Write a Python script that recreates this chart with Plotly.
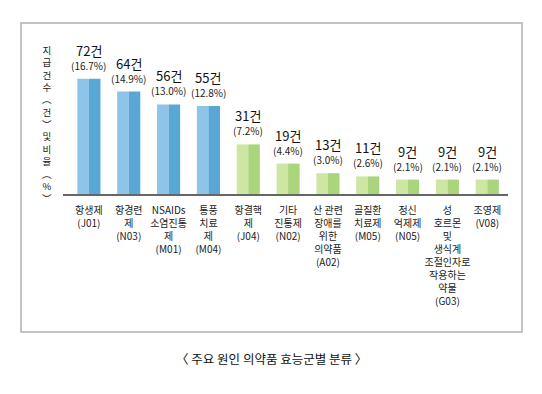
import plotly.graph_objects as go

categories = ["항생제<br>(J01)", "항경련<br>제<br>(N03)", "NSAIDs<br>소염진통<br>제<br>(M01)",
              "통풍<br>치료<br>제<br>(M04)", "항결핵<br>제<br>(J04)", "기타<br>진통제<br>(N02)",
              "산 관련<br>장애를<br>위한<br>의약품<br>(A02)", "골질환<br>치료제<br>(M05)",
              "정신<br>억제제<br>(N05)",
              "성<br>호르몬<br>및<br>생식계<br>조절인자로<br>작용하는<br>약물<br>(G03)",
              "조영제<br>(V08)"]
counts = [72, 64, 56, 55, 31, 19, 13, 11, 9, 9, 9]
percents = ["16.7%", "14.9%", "13.0%", "12.8%", "7.2%", "4.4%", "3.0%", "2.6%", "2.1%", "2.1%", "2.1%"]
groups = ["blue"] * 4 + ["green"] * 7
ytitle_chars = ["지", "급", "건", "수", "︵", "건", "︶", "및", "비", "율", "︵", "%", "︶"]
caption = "〈 주요 원인 의약품 효능군별 분류 〉"

light = {"blue": "#8ec4e8", "green": "#cde6a2"}
dark = {"blue": "#58a7d5", "green": "#abd57c"}

FONT = "Noto Sans CJK KR, Noto Sans, sans-serif"
OFF = 8  # page body margin
W, H = 542 - OFF, 394 - OFF
L, R, T, B = 63 - OFF, 34, 34 - OFF, 200
pw, ph = W - L - R, H - T - B

x = list(range(len(categories)))
fig = go.Figure()
fig.add_trace(go.Bar(x=x, y=counts, marker=dict(color=[light[g] for g in groups], line_width=0),
                     hoverinfo="skip", showlegend=False))
fig.add_trace(go.Bar(x=x, y=counts, marker=dict(color=[dark[g] for g in groups], line_width=0),
                     hoverinfo="skip", showlegend=False))

anns = []
for i, (c, p) in enumerate(zip(counts, percents)):
    anns.append(dict(x=i, y=c, xref="x", yref="y", text="(" + p + ")", showarrow=False,
                     yanchor="bottom", yshift=4, font=dict(size=10, color="#222", family=FONT)))
    anns.append(dict(x=i, y=c, xref="x", yref="y", text=f"{c}건", showarrow=False,
                     yanchor="bottom", yshift=17, font=dict(size=13, color="#111", family=FONT)))

def ppy(py):
    return (H + OFF - B - py) / ph

def ppx(px):
    return (px - OFF - L) / pw

anns.append(dict(x=ppx(47), y=ppy(124), xref="paper", yref="paper",
                 text="<br>".join(ytitle_chars), showarrow=False,
                 xanchor="center", yanchor="middle",
                 font=dict(size=9.5, color="#222", family=FONT)))

anns.append(dict(x=ppx(271), y=ppy(358), xref="paper", yref="paper", text=caption,
                 showarrow=False, xanchor="center", yanchor="middle",
                 font=dict(size=12.5, color="#111", family=FONT)))

fig.update_layout(
    width=W, height=H, margin=dict(l=L, r=R, t=T, b=B),
    paper_bgcolor="white", plot_bgcolor="white",
    barmode="group", bargap=0.42, bargroupgap=0,
    annotations=anns,
    shapes=[dict(type="rect", xref="paper", yref="paper",
                 x0=ppx(21), x1=ppx(522), y0=ppy(332), y1=ppy(23),
                 line=dict(color="#b0b0b0", width=1.5), fillcolor="rgba(0,0,0,0)")],
    xaxis=dict(range=[-0.65, 10.52], tickvals=x, ticktext=categories, showgrid=False,
               showline=True, linecolor="#666", linewidth=1.5, ticks="", tickangle=0,
               ticklabelstandoff=6,
               tickfont=dict(size=10, color="#222", family=FONT), fixedrange=True),
    yaxis=dict(range=[0, 100], visible=False, fixedrange=True),
)

fig.write_html("out.html")
